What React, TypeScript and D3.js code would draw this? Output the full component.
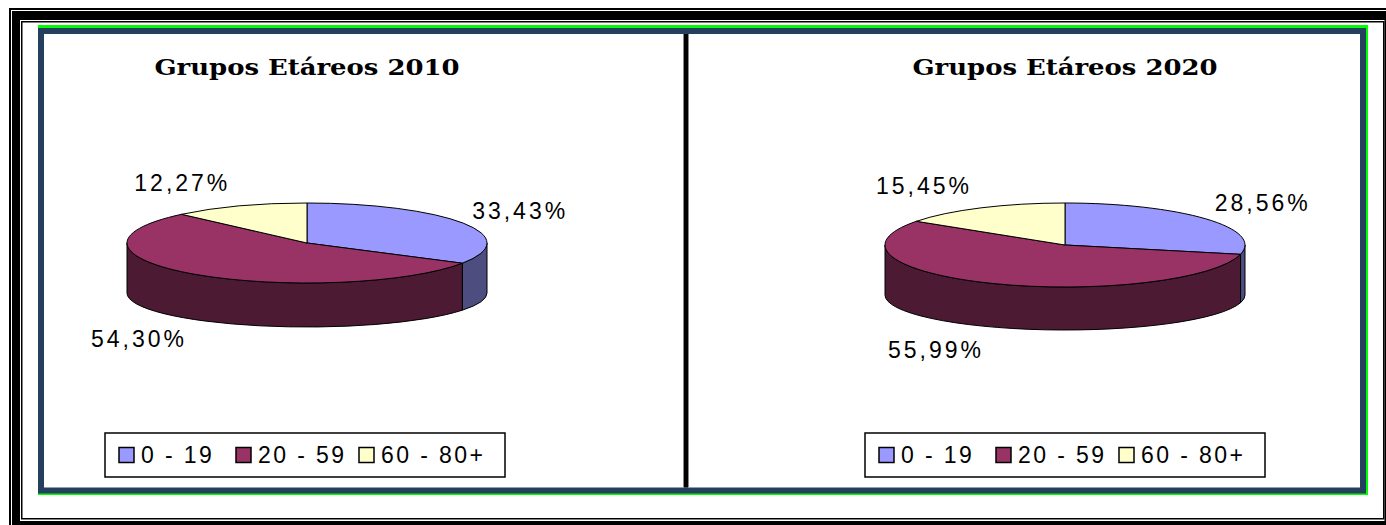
import React from "react";
import * as d3 from "d3";

const categories = ["0 - 19", "20 - 59", "60 - 80+"];
const values2010 = [33.43, 54.3, 12.27];
const values2020 = [28.56, 55.99, 15.45];
const labels2010 = ["33,43%", "54,30%", "12,27%"];
const labels2020 = ["28,56%", "55,99%", "15,45%"];
const titles = ["Grupos Etáreos 2010", "Grupos Etáreos 2020"];

const topColors = ["#9999ff", "#993366", "#ffffcc"];
const sideColors = ["#4d4d80", "#4d1a33", "#808066"];

const W = 1386;
const H = 525;

type PieProps = {
  cx: number;
  cy: number;
  values: number[];
  labels: string[];
  title: string;
  ry: number;
  ryb: number;
};

const RX = 180;
const DEPTH = 50;

const Pie3D = ({ cx, cy, values, labels, title, ry, ryb }: PieProps) => {
  const pie = d3.pie<number>().sort(null).value((d) => d);
  const slices = pie(values);
  const arc = d3.arc<d3.PieArcDatum<number>>().innerRadius(0).outerRadius(RX);

  const top = (t: number): [number, number] => [cx + RX * Math.sin(t), cy - ry * Math.cos(t)];
  const bot = (t: number): [number, number] => [cx + RX * Math.sin(t), cy + DEPTH - ryb * Math.cos(t)];

  // visible side walls (front half only)
  const sides = slices
    .map((s, i) => {
      const a = Math.max(s.startAngle, Math.PI / 2);
      const b = Math.min(s.endAngle, (3 * Math.PI) / 2);
      if (a >= b) return null;
      const p1 = top(a), p2 = top(b), p3 = bot(b), p4 = bot(a);
      const d = `M${p1}A${RX},${ry} 0 0 1 ${p2}L${p3}A${RX},${ryb} 0 0 0 ${p4}Z`;
      return <path key={i} d={d} fill={sideColors[i]} stroke="#000" strokeWidth={1} />;
    })
    .filter(Boolean);

  const labelEls = slices.map((s, i) => {
    const m = (s.startAngle + s.endAngle) / 2;
    const c = Math.cos(m);
    const [ex, ey] = c < 0 ? bot(m) : top(m);
    const lx = ex + Math.sign(Math.sin(m)) * 57;
    const ly = ey - c * 25;
    return (
      <text
        key={i}
        x={lx}
        y={ly + 8}
        textAnchor="middle"
        fontFamily="'Liberation Sans', Arial, sans-serif"
        fontSize={23}
        letterSpacing={3}
        fill="#000"
      >
        {labels[i]}
      </text>
    );
  });

  return (
    <g>
      <text
        x={cx}
        y={75}
        textAnchor="middle"
        fontFamily="'DejaVu Serif', serif"
        fontWeight="bold"
        fontSize={23}
        textLength={305}
        lengthAdjust="spacingAndGlyphs"
      >
        {title}
      </text>
      {sides}
      <g transform={`translate(${cx},${cy}) scale(1,${ry / RX})`}>
        {slices.map((s, i) => (
          <path
            key={i}
            d={arc(s) || ""}
            fill={topColors[i]}
            stroke="#000"
            strokeWidth={1}
            vectorEffect="non-scaling-stroke"
          />
        ))}
      </g>
      {labelEls}
    </g>
  );
};

const Legend = ({ x }: { x: number }) => {
  const boxOffsets = [14, 131, 254];
  return (
    <g transform={`translate(${x},433)`}>
      <rect x={0} y={0} width={400} height={44} fill="#fff" stroke="#000" strokeWidth={1.5} />
      {categories.map((c, i) => (
        <g key={c}>
          <rect
            x={boxOffsets[i]}
            y={14.5}
            width={15}
            height={15}
            fill={topColors[i]}
            stroke="#000"
            strokeWidth={1.5}
          />
          <text
            x={boxOffsets[i] + 22}
            y={29.5}
            fontFamily="'Liberation Sans', Arial, sans-serif"
            fontSize={23}
            letterSpacing={2.4}
            fill="#000"
          >
            {c}
          </text>
        </g>
      ))}
    </g>
  );
};

export default function App() {
  return (
    <svg
      width={W}
      height={H}
      style={{ position: "absolute", left: 0, top: 0, background: "#fff" }}
    >
      {/* outer double frame */}
      <rect x={9} y={8} width={W} height={H} fill="#000" />
      <rect x={11.5} y={10.5} width={W} height={H} fill="none" stroke="#fff" strokeWidth={1} />
      <rect x={20} y={20} width={1364.5} height={501} fill="#fff" />
      <rect x={21.75} y={21.75} width={1362} height={497} fill="none" stroke="#000" strokeWidth={1.5} />

      {/* panel */}
      <rect x={38} y={25} width={1330} height={470} fill="#00ff00" />
      <rect x={38} y={28} width={1328} height={465.5} fill="#253f5e" />
      <rect x={44} y={34} width={1316} height={453.5} fill="#fff" />

      {/* divider */}
      <rect x={683} y={34} width={6} height={453.5} fill="#888" />
      <rect x={684} y={34} width={4} height={453.5} fill="#000" />

      <Pie3D cx={307} cy={243} ry={40} ryb={34} values={values2010} labels={labels2010} title={titles[0]} />
      <Pie3D cx={1065} cy={245} ry={42} ryb={35} values={values2020} labels={labels2020} title={titles[1]} />

      <Legend x={105} />
      <Legend x={865} />
    </svg>
  );
}
